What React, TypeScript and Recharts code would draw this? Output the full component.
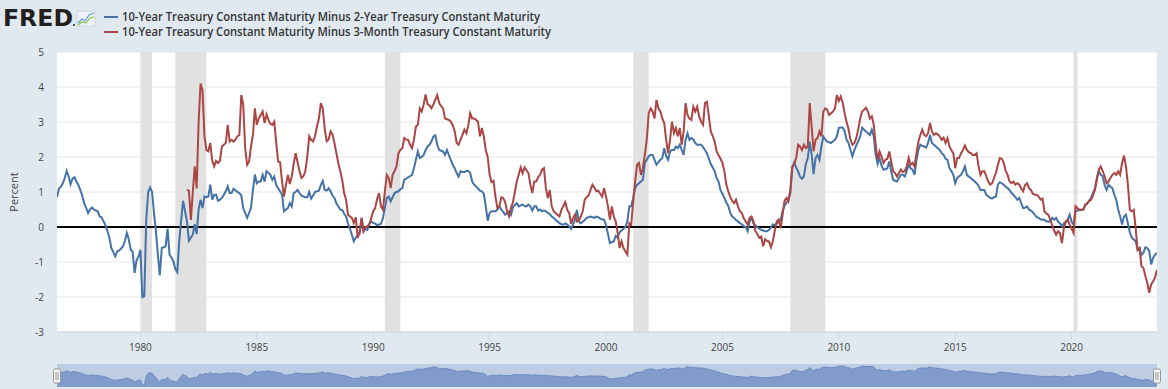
import React from "react";
import {
  LineChart,
  Line,
  XAxis,
  YAxis,
  CartesianGrid,
  ReferenceArea,
  ReferenceLine,
  AreaChart,
  Area,
} from "recharts";

// monthly averages, Jun 1976 .. Sep 2023
const FIRST_YEAR = 1976;
const FIRST_MONTH = 6;

// 10-Year minus 2-Year (T10Y2Y)
const spread2y: number[] = [
  /* 1976 */ 0.85, 1.1, 1.15, 1.25, 1.4, 1.6, 1.45,
  /* 1977 */ 1.22, 1.38, 1.42, 1.3, 1.2, 1.06, 0.9, 0.68, 0.55, 0.4, 0.5, 0.56,
  /* 1978 */ 0.5, 0.47, 0.45, 0.3, 0.28, 0.16, 0.05, -0.12, -0.3, -0.6, -0.72, -0.84,
  /* 1979 */ -0.7, -0.67, -0.62, -0.55, -0.4, -0.17, -0.35, -0.65, -0.7, -1.31, -0.95, -0.85,
  /* 1980 */ -0.65, -2.0, -1.98, 0.2, 1.0, 1.13, 1.0, 0.4, -0.12, -0.8, -1.38, -0.6,
  /* 1981 */ -0.58, -0.55, -0.05, -0.79, -0.87, -0.98, -1.2, -1.29, -0.41, 0.2, 0.75, 0.45,
  /* 1982 */ 0.16, -0.39, -0.3, -0.22, 0.08, -0.2, 0.5, 0.78, 0.54, 0.87, 0.85, 0.87,
  /* 1983 */ 1.21, 0.78, 0.92, 0.92, 0.75, 0.78, 0.83, 0.92, 1.02, 1.16, 0.97, 0.97,
  /* 1984 */ 1.09, 1.05, 1.0, 0.97, 0.9, 0.54, 0.4, 0.26, 0.4, 0.54, 1.06, 1.5,
  /* 1985 */ 1.25, 1.3, 1.3, 1.49, 1.3, 1.59, 1.55, 1.49, 1.35, 1.44, 1.2, 1.11,
  /* 1986 */ 1.02, 0.92, 0.45, 0.5, 0.54, 0.68, 0.59, 0.97, 1.0, 1.06, 0.97, 0.9,
  /* 1987 */ 0.87, 0.85, 0.85, 1.0, 0.81, 0.9, 1.0, 1.02, 1.04, 1.2, 1.32, 1.06,
  /* 1988 */ 1.04, 1.11, 1.02, 0.9, 0.83, 0.68, 0.59, 0.5, 0.49, 0.38, 0.3, 0.1,
  /* 1989 */ -0.05, -0.22, -0.41, -0.3, -0.24, -0.2, 0.26, -0.12, -0.05, -0.08, 0.1, 0.16,
  /* 1990 */ 0.11, 0.1, 0.05, 0.07, 0.09, 0.26, 0.54, 0.83, 0.87, 0.73, 0.85, 0.97,
  /* 1991 */ 1.0, 1.02, 1.08, 1.11, 1.35, 1.38, 1.42, 1.45, 1.49, 1.68, 1.92, 2.16,
  /* 1992 */ 1.97, 2.0, 2.06, 2.2, 2.3, 2.35, 2.44, 2.59, 2.62, 2.35, 2.2, 2.18,
  /* 1993 */ 2.16, 2.06, 2.2, 2.05, 1.92, 1.78, 1.68, 1.54, 1.44, 1.59, 1.57, 1.57,
  /* 1994 */ 1.6, 1.6, 1.54, 1.3, 1.21, 1.16, 1.1, 1.04, 1.02, 0.95, 0.6, 0.18,
  /* 1995 */ 0.4, 0.45, 0.45, 0.45, 0.49, 0.59, 0.5, 0.43, 0.35, 0.4, 0.45, 0.35,
  /* 1996 */ 0.56, 0.62, 0.68, 0.59, 0.62, 0.64, 0.6, 0.59, 0.64, 0.59, 0.47, 0.59,
  /* 1997 */ 0.59, 0.47, 0.5, 0.45, 0.47, 0.45, 0.4, 0.37, 0.3, 0.26, 0.2, 0.16,
  /* 1998 */ 0.11, 0.08, 0.07, 0.1, 0.07, 0.02, -0.05, 0.07, 0.21, 0.49, 0.16, 0.11,
  /* 1999 */ 0.15, 0.2, 0.26, 0.28, 0.3, 0.28, 0.26, 0.3, 0.28, 0.24, 0.22, 0.21,
  /* 2000 */ 0.05, -0.2, -0.46, -0.43, -0.41, -0.25, -0.3, -0.15, -0.1, -0.05, 0.0, 0.16,
  /* 2001 */ 0.59, 0.59, 0.83, 1.11, 1.21, 1.25, 1.3, 1.35, 1.83, 1.92, 2.02, 2.06,
  /* 2002 */ 2.06, 1.92, 1.78, 1.85, 1.92, 1.97, 2.25, 2.02, 1.92, 2.16, 2.2, 2.2,
  /* 2003 */ 2.3, 2.25, 2.35, 2.2, 2.06, 2.49, 2.68, 2.49, 2.54, 2.5, 2.4, 2.35,
  /* 2004 */ 2.35, 2.35, 2.28, 2.2, 2.11, 1.95, 1.8, 1.7, 1.59, 1.4, 1.3, 1.05,
  /* 2005 */ 0.95, 0.83, 0.7, 0.6, 0.42, 0.3, 0.26, 0.2, 0.16, 0.11, 0.08, 0.02,
  /* 2006 */ 0.0, -0.12, 0.16, 0.26, 0.1, 0.05, -0.01, -0.05, -0.08, -0.1, -0.12, -0.12,
  /* 2007 */ -0.08, -0.02, 0.07, 0.05, 0.1, 0.16, 0.21, 0.45, 0.6, 0.7, 0.78, 0.97,
  /* 2008 */ 1.68, 1.85, 1.7, 1.59, 1.44, 1.38, 1.45, 1.8, 1.97, 2.44, 2.06, 1.51,
  /* 2009 */ 1.97, 2.06, 1.92, 2.3, 2.59, 2.5, 2.44, 2.42, 2.4, 2.45, 2.49, 2.59,
  /* 2010 */ 2.83, 2.84, 2.84, 2.73, 2.49, 2.4, 2.2, 2.02, 2.2, 2.33, 2.45, 2.59,
  /* 2011 */ 2.84, 2.78, 2.73, 2.68, 2.63, 2.78, 2.59, 2.06, 1.8, 1.97, 1.75, 1.64,
  /* 2012 */ 1.65, 1.68, 1.87, 1.59, 1.35, 1.32, 1.3, 1.4, 1.49, 1.49, 1.44, 1.6,
  /* 2013 */ 1.78, 1.68, 1.64, 1.49, 1.9, 2.2, 2.35, 2.32, 2.3, 2.27, 2.4, 2.63,
  /* 2014 */ 2.4, 2.35, 2.3, 2.25, 2.2, 2.11, 2.06, 1.95, 1.92, 1.68, 1.6, 1.49,
  /* 2015 */ 1.25, 1.4, 1.45, 1.49, 1.6, 1.73, 1.49, 1.44, 1.4, 1.35, 1.3, 1.25,
  /* 2016 */ 1.18, 1.06, 1.06, 1.06, 0.92, 0.88, 0.83, 0.81, 0.85, 0.87, 1.21, 1.28,
  /* 2017 */ 1.25, 1.21, 1.15, 1.11, 1.06, 0.97, 0.92, 0.85, 0.78, 0.83, 0.68, 0.54,
  /* 2018 */ 0.55, 0.59, 0.5, 0.47, 0.42, 0.35, 0.28, 0.26, 0.22, 0.21, 0.21, 0.16,
  /* 2019 */ 0.16, 0.16, 0.26, 0.21, 0.26, 0.15, 0.1, 0.02, 0.11, 0.14, 0.21, 0.35,
  /* 2020 */ 0.15, 0.07, 0.45, 0.47, 0.48, 0.49, 0.49, 0.64, 0.66, 0.75, 0.83, 0.97,
  /* 2021 */ 1.1, 1.4, 1.59, 1.49, 1.45, 1.2, 1.06, 1.21, 1.15, 1.11, 0.92, 0.78,
  /* 2022 */ 0.49, 0.3, 0.07, 0.3, 0.35, 0.1, -0.15, -0.3, -0.36, -0.41, -0.65, -0.6,
  /* 2023 */ -0.8, -0.74, -0.58, -0.6, -0.69, -1.07, -0.88, -0.79, -0.74,
];

// 10-Year minus 3-Month (T10Y3M), starts Jan 1982
const SPREAD3M_START = 1982;
const spread3m: number[] = [
  /* 1982 */ 1.06, 1.04, 0.2, 1.0, 1.73, 1.1, 3.0, 4.1, 3.9, 2.6, 2.2, 2.16,
  /* 1983 */ 2.4, 1.9, 1.73, 1.89, 1.83, 1.9, 2.3, 2.35, 2.4, 2.92, 2.44, 2.49,
  /* 1984 */ 2.44, 2.5, 2.59, 2.63, 3.77, 3.49, 2.25, 1.78, 1.87, 2.3, 2.63, 3.39,
  /* 1985 */ 2.92, 3.1, 3.2, 3.3, 2.97, 3.22, 3.06, 2.95, 2.92, 3.01, 2.4, 1.87,
  /* 1986 */ 1.85, 1.3, 0.87, 1.2, 1.49, 1.23, 1.45, 1.8, 2.11, 1.85, 1.6, 1.4,
  /* 1987 */ 1.45, 1.59, 2.0, 2.59, 2.49, 2.44, 2.6, 2.87, 3.1, 3.54, 3.39, 2.8,
  /* 1988 */ 2.45, 2.5, 2.73, 2.65, 2.4, 2.11, 1.83, 1.6, 1.35, 0.97, 0.78, 0.35,
  /* 1989 */ 0.3, 0.26, 0.11, 0.28, -0.31, -0.12, 0.26, -0.12, 0.0, 0.02, 0.07, 0.26,
  /* 1990 */ 0.45, 0.54, 0.8, 0.97, 0.59, 0.49, 1.02, 1.49, 1.4, 1.11, 1.49, 1.6,
  /* 1991 */ 1.73, 2.11, 2.2, 2.25, 2.54, 2.5, 2.49, 2.35, 2.25, 2.5, 2.87, 2.92,
  /* 1992 */ 3.39, 3.3, 3.5, 3.79, 3.51, 3.47, 3.39, 3.5, 3.63, 3.77, 3.54, 3.45,
  /* 1993 */ 3.39, 3.1, 3.08, 3.06, 3.01, 2.9, 2.73, 2.4, 2.35, 2.5, 2.63, 2.78,
  /* 1994 */ 2.68, 2.9, 3.25, 3.1, 3.1, 3.06, 3.01, 2.59, 2.83, 2.59, 2.2, 2.0,
  /* 1995 */ 1.49, 1.28, 1.32, 0.87, 0.54, 0.59, 0.85, 0.83, 0.71, 0.45, 0.3, 0.54,
  /* 1996 */ 0.7, 1.0, 1.3, 1.49, 1.7, 1.54, 1.7, 1.62, 1.54, 1.21, 0.97, 1.3,
  /* 1997 */ 1.3, 1.42, 1.49, 1.64, 1.68, 1.11, 0.83, 1.06, 0.59, 0.45, 0.4, 0.35,
  /* 1998 */ 0.3, 0.49, 0.6, 0.71, 0.49, 0.4, 0.09, 0.26, 0.35, 0.16, 0.18, 0.3,
  /* 1999 */ 0.45, 0.78, 0.85, 0.9, 1.06, 1.21, 1.13, 1.02, 1.04, 0.95, 0.87, 1.11,
  /* 2000 */ 0.87, 0.59, 0.21, 0.59, 0.3, 0.16, -0.17, -0.6, -0.41, -0.6, -0.7, -0.79,
  /* 2001 */ 0.11, 0.07, 0.73, 1.3, 1.78, 1.83, 1.49, 1.68, 2.06, 2.5, 3.25, 3.39,
  /* 2002 */ 3.3, 3.1, 3.63, 3.39, 3.3, 3.1, 2.97, 2.49, 2.11, 2.49, 3.01, 2.68,
  /* 2003 */ 2.83, 2.59, 2.83, 2.35, 2.73, 3.54, 3.2, 3.1, 3.06, 3.44, 3.3, 3.44,
  /* 2004 */ 3.16, 3.01, 2.92, 3.54, 3.58, 3.16, 2.73, 2.6, 2.44, 2.16, 2.06, 1.95,
  /* 2005 */ 1.83, 1.59, 1.21, 1.02, 0.87, 0.75, 0.68, 0.78, 0.59, 0.45, 0.4, 0.25,
  /* 2006 */ 0.16, 0.07, 0.26, 0.3, 0.16, -0.12, -0.2, -0.31, -0.27, -0.55, -0.35, -0.4,
  /* 2007 */ -0.41, -0.58, -0.4, -0.1, 0.16, 0.21, -0.03, 0.35, 0.75, 0.83, 0.73, 1.06,
  /* 2008 */ 1.73, 1.78, 1.97, 2.35, 2.3, 2.2, 2.35, 2.25, 2.3, 3.54, 2.85, 2.16,
  /* 2009 */ 2.49, 2.54, 2.73, 2.59, 3.3, 3.39, 3.35, 3.2, 3.25, 3.3, 3.39, 3.77,
  /* 2010 */ 3.6, 3.73, 3.55, 3.25, 3.0, 2.8, 2.49, 2.35, 2.4, 2.54, 2.8, 3.1,
  /* 2011 */ 3.3, 3.35, 3.41, 3.3, 3.1, 3.16, 2.92, 2.35, 1.92, 2.16, 2.02, 1.83,
  /* 2012 */ 1.92, 1.95, 2.16, 1.87, 1.59, 1.54, 1.44, 1.54, 1.64, 1.57, 1.6, 1.73,
  /* 2013 */ 1.97, 1.78, 1.83, 1.73, 2.1, 2.44, 2.63, 2.78, 2.63, 2.59, 2.68, 2.97,
  /* 2014 */ 2.73, 2.63, 2.68, 2.65, 2.59, 2.49, 2.55, 2.4, 2.54, 2.3, 2.2, 2.11,
  /* 2015 */ 1.68, 1.97, 1.97, 2.11, 2.2, 2.33, 2.2, 2.14, 2.11, 2.06, 2.06, 2.11,
  /* 2016 */ 1.75, 1.49, 1.59, 1.59, 1.45, 1.3, 1.21, 1.25, 1.4, 1.55, 1.78, 1.97,
  /* 2017 */ 1.95, 1.83, 1.6, 1.49, 1.3, 1.25, 1.3, 1.21, 1.25, 1.21, 1.1, 1.02,
  /* 2018 */ 1.2, 1.25, 1.11, 1.06, 0.95, 0.92, 0.92, 0.87, 0.78, 0.81, 0.45, 0.38,
  /* 2019 */ 0.35, 0.2, 0.05, -0.1, -0.22, -0.12, -0.17, -0.46, -0.03, 0.16, 0.21, 0.07,
  /* 2020 */ -0.05, -0.17, 0.59, 0.54, 0.5, 0.49, 0.5, 0.62, 0.68, 0.75, 0.78, 0.9,
  /* 2021 */ 1.06, 1.35, 1.64, 1.73, 1.6, 1.45, 1.25, 1.3, 1.4, 1.49, 1.54, 1.49,
  /* 2022 */ 1.59, 1.49, 1.83, 2.04, 1.73, 1.21, 0.49, 0.45, 0.49, -0.03, -0.65, -0.6,
  /* 2023 */ -1.12, -1.17, -1.4, -1.6, -1.88, -1.64, -1.55, -1.45, -1.22,
];

// NBER recessions, [start, end] as decimal years
const recessions: [number, number][] = [
  [1980.0, 1980.5],
  [1981.5, 1982.833],
  [1990.5, 1991.167],
  [2001.167, 2001.833],
  [2007.917, 2009.417],
  [2020.083, 2020.25],
];

const yearTicks = [1980, 1985, 1990, 1995, 2000, 2005, 2010, 2015, 2020];
const navTicks = [1980, 1990, 2000, 2010, 2020];
const percentTicks = [-3, -2, -1, 0, 1, 2, 3, 4, 5];

const legendNames = [
  "10-Year Treasury Constant Maturity Minus 2-Year Treasury Constant Maturity",
  "10-Year Treasury Constant Maturity Minus 3-Month Treasury Constant Maturity",
];

const BLUE = "#4572a7";
const RED = "#aa4643";

const toYear = (i: number) => FIRST_YEAR + (FIRST_MONTH - 1 + i) / 12;
const offset3m = (SPREAD3M_START - FIRST_YEAR) * 12 - (FIRST_MONTH - 1);

const rows = spread2y.map((v, i) => ({
  t: toYear(i),
  a: v,
  b: i >= offset3m ? spread3m[i - offset3m] ?? null : null,
}));

const T0 = toYear(0);
const T1 = toYear(spread2y.length - 1);

const font = '"Open Sans", "DejaVu Sans", sans-serif';

const NavTick = (props: any) => {
  const { x, payload } = props;
  return (
    <text x={x + 3} y={17} fontSize={10} fill="#8c9cbf" fontFamily={font}>
      {payload.value}
    </text>
  );
};

const Handle = ({ x }: { x: number }) => (
  <g>
    <rect x={x - 3.5} y={369} width={7} height={14} rx={1.5} fill="#f2f2f2" stroke="#999" strokeWidth={1} />
    <line x1={x - 1} y1={372} x2={x - 1} y2={380} stroke="#999" />
    <line x1={x + 1} y1={372} x2={x + 1} y2={380} stroke="#999" />
  </g>
);

export default function App() {
  return (
    <div
      style={{
        position: "absolute",
        left: 0,
        top: 0,
        width: 1168,
        height: 389,
        background: "#e1e9f0",
        overflow: "hidden",
        fontFamily: font,
      }}
    >
      {/* main chart */}
      <div style={{ position: "absolute", left: 0, top: 0 }}>
        <LineChart
          width={1168}
          height={360}
          data={rows}
          margin={{ top: 52, right: 11, bottom: 0, left: 0 }}
        >
          <CartesianGrid vertical={false} stroke="#e6e6e6" fill="#ffffff" />
          {recessions.map(([s, e], i) => (
            <ReferenceArea
              key={i}
              x1={s}
              x2={e}
              fill="#e1e1e1"
              fillOpacity={1}
              stroke="none"
              ifOverflow="hidden"
            />
          ))}
          <XAxis
            type="number"
            dataKey="t"
            domain={[T0, T1]}
            ticks={yearTicks}
            allowDataOverflow
            height={28}
            stroke="#ccd6eb"
            tickSize={8}
            tickMargin={4}
            tick={{ fill: "#444", fontSize: 10, fontFamily: font }}
          />
          <YAxis
            type="number"
            domain={[-3, 5]}
            ticks={percentTicks}
            width={57}
            axisLine={false}
            tickLine={false}
            tickSize={0}
            tickMargin={13}
            tick={{ fill: "#444", fontSize: 10, fontFamily: font }}
          />
          <ReferenceLine y={0} stroke="#000" strokeWidth={2} />
          <Line
            dataKey="a"
            stroke={BLUE}
            strokeWidth={2}
            dot={false}
            type="linear"
            isAnimationActive={false}
          />
          <Line
            dataKey="b"
            stroke={RED}
            strokeWidth={2}
            dot={false}
            type="linear"
            connectNulls={false}
            isAnimationActive={false}
          />
        </LineChart>
      </div>

      {/* navigator */}
      <div
        style={{
          position: "absolute",
          left: 57,
          top: 364,
          width: 1100,
          height: 23,
          background: "#bfcde4",
        }}
      >
        <AreaChart
          width={1100}
          height={23}
          data={rows}
          margin={{ top: 0, right: 0, bottom: 0, left: 0 }}
        >
          <XAxis
            type="number"
            dataKey="t"
            domain={[T0, T1]}
            ticks={navTicks}
            height={0}
            axisLine={false}
            tickLine={false}
            tick={<NavTick />}
          />
          <YAxis hide domain={[(min: number) => min - 0.5, (max: number) => max + 0.5]} />
          <Area
            dataKey="a"
            baseValue="dataMin"
            type="linear"
            stroke="#6d8cc2"
            strokeWidth={1}
            fill="#819bcb"
            fillOpacity={1}
            dot={false}
            isAnimationActive={false}
          />
        </AreaChart>
      </div>

      {/* logo, legend, axis title, handles */}
      <svg
        width={1168}
        height={389}
        style={{ position: "absolute", left: 0, top: 0, pointerEvents: "none" }}
      >
        <text
          x={3}
          y={26}
          fontSize={23}
          fontWeight={900}
          fontFamily='"DejaVu Sans", sans-serif'
          fill="#231f20"
          textLength={70}
          lengthAdjust="spacingAndGlyphs"
        >
          FRED
        </text>
        <rect x={77} y={11} width={18} height={15} fill="#eef2f7" stroke="#c5cfdc" strokeWidth={0.8} />
        <polyline points="78,23 82,19 85,21 89,15 94,13" fill="none" stroke="#5b9bd5" strokeWidth={1.2} />
        <polyline points="78,25 82,22 86,23 90,18 94,17" fill="none" stroke="#8dc63f" strokeWidth={1.2} />
        <circle cx={74} cy={25} r={1} fill="#231f20" />

        <line x1={104} y1={17} x2={118} y2={17} stroke={BLUE} strokeWidth={2} />
        <text
          x={122}
          y={21}
          fontSize={12}
          fontWeight={600}
          fill="#333"
          fontFamily={font}
          textLength={418}
          lengthAdjust="spacingAndGlyphs"
        >
          {legendNames[0]}
        </text>
        <line x1={104} y1={32} x2={118} y2={32} stroke={RED} strokeWidth={2} />
        <text
          x={122}
          y={36}
          fontSize={12}
          fontWeight={600}
          fill="#333"
          fontFamily={font}
          textLength={429}
          lengthAdjust="spacingAndGlyphs"
        >
          {legendNames[1]}
        </text>

        <text
          x={0}
          y={0}
          fontSize={11}
          fill="#444"
          fontFamily={font}
          textAnchor="middle"
          transform="translate(18,192) rotate(-90)"
        >
          Percent
        </text>

        <Handle x={57} />
        <Handle x={1157} />
      </svg>
    </div>
  );
}
